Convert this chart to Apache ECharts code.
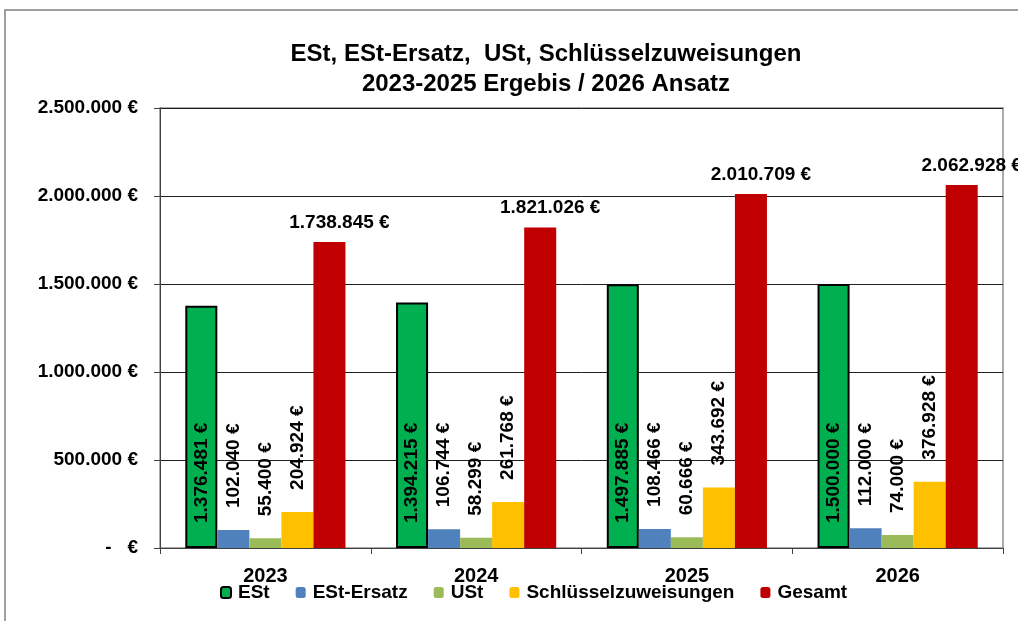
<!DOCTYPE html>
<html>
<head>
<meta charset="utf-8">
<script src="https://cdn.jsdelivr.net/npm/echarts@6/dist/echarts.min.js"></script>
<style>
  body { margin: 0; background: #fff; }
  #chart { width: 1018px; height: 621px; }
</style>
</head>
<body>
<div id="chart"></div>
<script>
var years = ["2023", "2024", "2025", "2026"];
var est = [1376481, 1394215, 1497885, 1500000];
var estErsatz = [102040, 106744, 108466, 112000];
var ust = [55400, 58299, 60666, 74000];
var schluessel = [204924, 261768, 343692, 376928];
var gesamt = [1738845, 1821026, 2010709, 2062928];

function euro(v) {
  if (v === 0) return "-   €";
  return String(v).replace(/\B(?=(\d{3})+(?!\d))/g, ".") + " €";
}

var font = "'Liberation Sans', Arial, sans-serif";
var chart = echarts.init(document.getElementById("chart"));

// schmale Balken: Beschriftung gedreht oberhalb
function rotLabel(dist) {
  return {
    show: true,
    position: "top",
    rotate: 90,
    align: "left",
    verticalAlign: "middle",
    distance: dist,
    color: "#000",
    fontWeight: "bold",
    fontSize: 19,
    fontFamily: font,
    formatter: function (p) { return euro(p.value); }
  };
}

chart.setOption({
  animation: false,
  title: {
    text: "ESt, ESt-Ersatz,  USt, Schlüsselzuweisungen\n2023-2025 Ergebis / 2026 Ansatz",
    left: 541,
    textAlign: "center",
    top: 34,
    textStyle: { fontFamily: font, fontWeight: "bold", fontSize: 24, lineHeight: 30, color: "#000" }
  },
  graphic: [{
    type: "rect",
    shape: { x: 5, y: 10, width: 1100, height: 700 },
    style: { fill: "none", stroke: "#808080", lineWidth: 1.5 },
    silent: true
  }],
  legend: {
    left: 215,
    top: 578,
    itemWidth: 10,
    itemHeight: 11,
    itemGap: 26,
    textStyle: { fontFamily: font, fontWeight: "bold", fontSize: 19, color: "#000", padding: [0, 0, 0, 2] },
    data: ["ESt", "ESt-Ersatz", "USt", "Schlüsselzuweisungen", "Gesamt"]
  },
  grid: {
    left: 160, right: 15, top: 108, bottom: 73,
    show: true, borderColor: "#909090", borderWidth: 1.5
  },
  xAxis: {
    type: "category",
    data: years,
    axisLine: { lineStyle: { color: "#404040" } },
    axisTick: { show: true, length: 6, lineStyle: { color: "#404040" } },
    axisLabel: { color: "#000", fontWeight: "bold", fontSize: 20, fontFamily: font, margin: 18 }
  },
  yAxis: {
    type: "value",
    min: 0, max: 2500000, interval: 500000,
    axisLine: { show: true, lineStyle: { color: "#404040" } },
    axisTick: { show: true, length: 6, lineStyle: { color: "#404040" } },
    splitLine: { lineStyle: { color: "#202020", width: 1 } },
    axisLabel: { color: "#000", fontWeight: "bold", fontSize: 19, fontFamily: font, margin: 22, formatter: euro }
  },
  series: [
    {
      name: "ESt", type: "bar", data: est, barGap: "0%", barCategoryGap: "24%",
      itemStyle: { color: "#00B050", borderColor: "#000", borderWidth: 2 },
      label: {
        show: true, position: "insideBottom", rotate: 90, align: "left", verticalAlign: "middle",
        distance: 25, color: "#000", fontWeight: "bold", fontSize: 19, fontFamily: font,
        formatter: function (p) { return euro(p.value); }
      }
    },
    { name: "ESt-Ersatz", type: "bar", data: estErsatz, itemStyle: { color: "#4F81BD" }, label: rotLabel(22) },
    { name: "USt", type: "bar", data: ust, itemStyle: { color: "#9BBB59" }, label: rotLabel(22) },
    { name: "Schlüsselzuweisungen", type: "bar", data: schluessel, itemStyle: { color: "#FFC000" }, label: rotLabel(22) },
    {
      name: "Gesamt", type: "bar", data: gesamt, itemStyle: { color: "#C00000" },
      label: {
        show: true, position: "top", distance: 10, offset: [10, 0],
        color: "#000", fontWeight: "bold", fontSize: 19, fontFamily: font,
        formatter: function (p) { return euro(p.value); }
      }
    }
  ]
});
</script>
</body>
</html>
